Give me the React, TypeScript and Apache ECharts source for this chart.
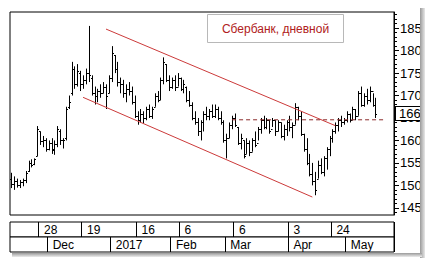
import React, { useEffect, useRef } from "react";
import * as echarts from "echarts";

// Trading days (categories), by month
const tradingDays: [string, number[]][] = [
  ["2016-11", [14, 15, 16, 17, 18, 21, 22, 23, 24, 25, 28, 29, 30]],
  ["2016-12", [1, 2, 5, 6, 7, 8, 9, 12, 13, 14, 15, 16, 19, 20, 21, 22, 23, 26, 27, 28, 29, 30]],
  ["2017-01", [3, 4, 5, 6, 9, 10, 11, 12, 13, 16, 17, 18, 19, 20, 23, 24, 25, 26, 27, 30, 31]],
  ["2017-02", [1, 2, 3, 6, 7, 8, 9, 10, 13, 14, 15, 16, 17, 20, 21, 22, 24, 27, 28]],
  ["2017-03", [1, 2, 3, 6, 7, 9, 10, 13, 14, 15, 16, 17, 20, 21, 22, 23, 24, 27, 28, 29, 30, 31]],
  ["2017-04", [3, 4, 5, 6, 7, 10, 11, 12, 13, 14, 17, 18, 19, 20, 21, 24, 25, 26, 27, 28]],
  ["2017-05", [2, 3, 4, 5, 10, 11, 12, 15, 16, 17, 18, 19, 22, 23, 24, 25, 26]],
];

// OHLC values (one per trading day from 2016-11-14)
const opens = [
  151.5, 150.2, 151.0, 150.0, 150.8, 151.2, 153.2, 155.0, 154.8, 156.5,
  162.0, 159.8, 160.0, 158.2, 159.5, 158.0, 159.2, 162.2, 160.0, 160.5,
  167.5, 170.5, 176.0, 172.5, 175.0, 172.5, 173.5, 175.0, 174.0, 170.5,
  170.0, 171.0, 170.5, 172.0, 170.5, 174.0, 179.0, 176.0, 173.0, 172.5,
  170.5, 171.5, 171.0, 168.5, 165.5, 164.5, 166.0, 165.0, 167.0, 165.5,
  167.5, 170.0, 169.0, 173.5, 177.0, 173.5, 172.0, 173.5, 172.0, 174.0,
  171.5, 172.0, 169.0, 168.0, 165.0, 164.0, 162.0, 164.0, 166.0, 165.5,
  166.5, 165.5, 167.0, 165.0, 164.0, 160.0, 160.5, 163.5, 165.0, 163.0,
  159.5, 160.0, 157.0, 159.5, 157.5, 160.0, 159.5, 162.5, 164.5, 163.0,
  164.5, 162.5, 164.5, 162.0, 164.0, 161.0, 162.5, 164.0, 163.0, 163.5,
  167.5, 165.5, 161.5, 158.0, 155.0, 152.5, 151.0, 151.5, 154.5, 153.0,
  156.0, 158.0, 160.5, 162.0, 163.5, 164.5, 164.0, 164.5, 166.0, 164.5,
  167.0, 165.5, 170.5, 168.0, 170.0, 169.0, 171.0, 168.0,
];
const highs = [
  152.8, 152.0, 151.5, 151.2, 151.5, 153.2, 155.5, 155.8, 156.0, 163.2,
  162.0, 161.0, 160.5, 160.0, 160.5, 160.0, 163.2, 162.5, 160.5, 167.5,
  170.0, 177.5, 176.5, 177.0, 175.5, 174.5, 176.0, 185.5, 174.5, 172.0,
  171.5, 172.5, 173.0, 172.5, 174.5, 181.0, 179.0, 177.5, 174.0, 173.5,
  172.5, 173.0, 172.0, 170.0, 166.5, 167.0, 166.5, 167.5, 168.0, 167.5,
  170.5, 171.0, 174.0, 178.5, 177.0, 174.5, 174.0, 174.5, 175.0, 174.0,
  173.5, 172.0, 171.0, 168.5, 166.5, 165.0, 164.5, 166.5, 167.5, 167.0,
  168.0, 168.0, 167.5, 166.5, 164.5, 161.5, 164.0, 165.5, 166.0, 163.0,
  161.5, 160.0, 160.5, 160.0, 160.5, 162.0, 163.0, 165.0, 165.5, 165.0,
  164.5, 165.0, 164.5, 164.5, 164.0, 163.5, 164.5, 165.5, 164.0, 168.3,
  167.5, 166.5, 161.5, 160.5, 157.0, 155.0, 153.0, 155.5, 156.0, 156.5,
  158.5, 161.0, 162.5, 164.0, 165.0, 165.5, 165.0, 166.5, 166.0, 167.5,
  167.0, 171.0, 172.0, 170.5, 171.5, 172.0, 170.5, 169.5,
];
const lows = [
  149.4, 149.0, 149.5, 149.4, 149.8, 150.5, 153.0, 154.0, 154.5, 156.5,
  159.0, 158.5, 157.5, 157.8, 157.0, 156.8, 158.5, 159.0, 158.2, 160.0,
  167.0, 170.0, 171.5, 172.0, 171.0, 171.5, 172.5, 173.0, 170.0, 168.0,
  168.5, 169.5, 170.5, 167.0, 170.5, 173.0, 175.0, 172.0, 170.5, 169.5,
  168.5, 170.0, 168.0, 165.0, 163.5, 164.0, 163.8, 164.5, 165.0, 164.8,
  167.5, 168.5, 169.0, 172.5, 173.0, 171.0, 171.5, 171.0, 172.0, 171.0,
  170.5, 168.5, 167.5, 164.5, 163.5, 161.0, 160.0, 162.0, 164.5, 164.5,
  165.0, 165.0, 164.5, 163.5, 159.5, 156.0, 160.5, 162.5, 163.0, 159.0,
  158.0, 156.0, 157.0, 156.5, 157.5, 158.5, 160.0, 161.5, 162.5, 162.5,
  161.5, 163.0, 161.0, 162.0, 160.5, 160.0, 161.0, 162.0, 160.5, 163.5,
  164.5, 161.0, 157.5, 154.5, 152.0, 150.0, 147.8, 151.5, 152.5, 152.0,
  153.5, 156.5, 159.5, 161.5, 162.0, 163.0, 163.5, 164.0, 164.0, 164.5,
  164.5, 165.5, 167.5, 167.5, 168.0, 168.5, 167.5, 165.0,
];
const closes = [
  150.2, 151.0, 150.0, 150.8, 151.2, 152.8, 155.0, 154.6, 155.8, 162.5,
  159.8, 160.2, 158.2, 159.5, 157.8, 159.2, 162.5, 160.0, 160.2, 167.0,
  168.5, 176.0, 172.5, 175.5, 172.5, 173.5, 175.0, 174.5, 170.5, 170.0,
  171.0, 170.5, 172.0, 170.0, 174.0, 179.5, 176.0, 173.0, 172.5, 170.5,
  171.5, 171.0, 168.5, 165.5, 164.5, 166.0, 165.0, 167.0, 165.5, 167.0,
  170.0, 169.0, 173.5, 177.5, 173.5, 172.0, 173.5, 172.0, 174.0, 171.5,
  172.5, 169.0, 168.0, 165.0, 164.0, 162.0, 164.0, 166.0, 165.5, 166.5,
  165.5, 167.0, 165.0, 164.0, 160.0, 160.5, 163.5, 165.0, 163.5, 159.5,
  160.5, 156.5, 159.5, 157.5, 160.0, 159.0, 162.5, 164.5, 163.0, 164.5,
  162.0, 164.5, 162.0, 164.0, 161.0, 162.5, 164.0, 163.0, 163.5, 167.5,
  165.5, 161.5, 158.0, 155.0, 152.5, 151.0, 149.0, 154.5, 153.0, 156.0,
  158.0, 160.5, 162.0, 163.5, 164.5, 164.0, 164.5, 166.0, 164.5, 167.0,
  165.5, 170.5, 168.0, 170.0, 169.0, 171.0, 168.0, 166.0,
];

// Channel lines and horizontal level: [category index, price]
const upperChannel: [number, number][] = [[33, 184.8], [113, 163.3]];
const lowerChannel: [number, number][] = [[25, 169.6], [105, 147.4]];
const levelLine: [number, number][] = [[77, 164.6], [130, 164.6]];

// Axis labels
const yLabelValues = [145, 150, 155, 160, 165, 170, 175, 180, 185];
const yMinorTicks = [144, 145, 146, 147, 148, 149, 150, 151, 152, 153, 154, 155, 156, 157, 158, 159, 160, 161, 162, 163, 164, 165, 166, 167, 168, 169, 170, 171, 172, 173, 174, 175, 176, 177, 178, 179, 180, 181, 182, 183, 184, 185, 186, 187, 188];
const dayTicks = ["2016-11-28", "2016-12-19", "2017-01-16", "2017-02-06", "2017-03-06", "2017-04-03", "2017-04-24"];
const monthTickDates = ["2016-12-01", "2017-01-03", "2017-02-01", "2017-03-01", "2017-04-03", "2017-05-02"];
const monthTickLabels = ["Dec", "2017", "Feb", "Mar", "Apr", "May"];

const title = "Сбербанк, дневной";

const dates: string[] = [];
tradingDays.forEach(([m, days]) => days.forEach((d) => dates.push(`${m}-${String(d).padStart(2, "0")}`)));

const FONT = "Liberation Sans";

export default function App() {
  const ref = useRef<HTMLDivElement>(null);
  useEffect(() => {
    if (!ref.current) return;
    const chart = echarts.init(ref.current, null, { renderer: "svg" });
    const ohlc = closes.map((c, i) => [i, opens[i], c, lows[i], highs[i]]);
    const lastClose = closes[closes.length - 1];

    const stripAxis = (gridIndex: number, isTick: (v: string) => boolean, fmt: (v: string) => string, margin: number) => ({
      gridIndex,
      type: "category",
      data: dates,
      boundaryGap: true,
      axisLine: { show: false },
      axisTick: { show: false },
      splitLine: {
        show: true,
        interval: (_i: number, v: string) => isTick(v),
        lineStyle: { color: "#000", width: 1 },
      },
      axisLabel: {
        show: true,
        inside: true,
        interval: (_i: number, v: string) => isTick(v),
        formatter: fmt,
        align: "left",
        verticalAlign: "middle",
        margin,
        padding: [0, 0, 0, 4],
        color: "#000",
        fontSize: 12,
        fontFamily: FONT,
      },
    });

    const option: any = {
      animation: false,
      backgroundColor: "#fff",
      textStyle: { fontFamily: FONT },
      grid: [
        { left: 10, top: 12, width: 384, height: 203, show: true, borderColor: "#000", borderWidth: 1, backgroundColor: "#fff" },
        { left: 10, top: 222, width: 384, height: 15, show: true, borderColor: "#000", borderWidth: 1, backgroundColor: "#fff" },
        { left: 10, top: 237, width: 384, height: 15, show: true, borderColor: "#000", borderWidth: 1, backgroundColor: "#fff" },
      ],
      xAxis: [
        {
          gridIndex: 0,
          type: "category",
          data: dates,
          boundaryGap: true,
          axisLine: { show: false },
          axisTick: { show: false },
          axisLabel: { show: false },
          splitLine: { show: false },
        },
        stripAxis(1, (v) => dayTicks.includes(v), (v) => String(Number(v.slice(8))), 7.5),
        stripAxis(
          2,
          (v) => monthTickDates.includes(v),
          (v) => monthTickLabels[monthTickDates.indexOf(v)] ?? "",
          7
        ),
      ],
      yAxis: [
        {
          gridIndex: 0,
          type: "value",
          position: "right",
          min: 143.4,
          max: 188.6,
          axisLine: { show: true, lineStyle: { color: "#000", width: 1 } },
          axisTick: { show: true, customValues: yMinorTicks, length: 3, lineStyle: { color: "#000" } },
          axisLabel: { show: true, customValues: yLabelValues, color: "#000", fontSize: 13, fontFamily: FONT, margin: 6 },
          splitLine: { show: false },
        },
        {
          gridIndex: 0,
          type: "value",
          position: "right",
          min: 143.4,
          max: 188.6,
          axisLine: { show: false },
          axisTick: { show: true, customValues: yLabelValues, length: 5, lineStyle: { color: "#000" } },
          axisLabel: { show: false },
          splitLine: { show: false },
        },
        {
          gridIndex: 0,
          type: "value",
          position: "right",
          min: 143.4,
          max: 188.6,
          z: 10,
          axisLine: { show: false },
          axisTick: { show: false },
          axisLabel: {
            show: true,
            customValues: [lastClose],
            formatter: (v: number) => String(Math.round(v)),
            color: "#000",
            fontSize: 13,
            fontFamily: FONT,
            margin: 2,
            backgroundColor: "#fff",
            borderColor: "#000",
            borderWidth: 1,
            padding: [0, 8, 0, 3],
          },
          splitLine: { show: false },
        },
        { gridIndex: 1, type: "value", show: false },
        { gridIndex: 2, type: "value", show: false },
      ],
      series: [
        {
          type: "custom",
          xAxisIndex: 0,
          yAxisIndex: 0,
          encode: { x: 0, y: [1, 2, 3, 4] },
          data: ohlc,
          z: 3,
          renderItem: (_params: any, api: any) => {
            const x = api.value(0);
            const o = api.coord([x, api.value(1)]);
            const c = api.coord([x, api.value(2)]);
            const l = api.coord([x, api.value(3)]);
            const h = api.coord([x, api.value(4)]);
            const px = Math.round(h[0]) + 0.5;
            const st = { stroke: "#000", lineWidth: 1 };
            const oy = Math.round(o[1]) + 0.5;
            const cy = Math.round(c[1]) + 0.5;
            return {
              type: "group",
              children: [
                { type: "line", shape: { x1: px, y1: h[1], x2: px, y2: l[1] }, style: st },
                { type: "line", shape: { x1: px - 1.5, y1: oy, x2: px, y2: oy }, style: st },
                { type: "line", shape: { x1: px, y1: cy, x2: px + 1.5, y2: cy }, style: st },
              ],
            };
          },
        },
        {
          type: "line",
          xAxisIndex: 0,
          yAxisIndex: 0,
          data: upperChannel,
          showSymbol: false,
          silent: true,
          z: 4,
          lineStyle: { color: "#cc3a3a", width: 1 },
        },
        {
          type: "line",
          xAxisIndex: 0,
          yAxisIndex: 0,
          data: lowerChannel,
          showSymbol: false,
          silent: true,
          z: 4,
          lineStyle: { color: "#cc3a3a", width: 1 },
        },
        {
          type: "line",
          xAxisIndex: 0,
          yAxisIndex: 0,
          data: levelLine,
          showSymbol: false,
          silent: true,
          z: 4,
          lineStyle: { color: "#8b2a2a", width: 1, type: [4, 3] },
        },
      ],
      graphic: [
        {
          type: "group",
          left: 207,
          top: 14,
          z: 20,
          children: [
            { type: "rect", shape: { x: 0, y: 0, width: 136, height: 28 }, style: { fill: "#fff", stroke: "#b8b8b8", lineWidth: 1 } },
            {
              type: "text",
              x: 68,
              y: 14,
              style: { text: title, fill: "#b02020", font: `12px "${FONT}"`, align: "center", verticalAlign: "middle" },
            },
          ],
        },
        {
          type: "rect",
          left: 420,
          top: 8,
          z: 30,
          shape: { width: 5, height: 250 },
          style: {
            fill: new echarts.graphic.LinearGradient(0, 0, 1, 0, [
              { offset: 0, color: "#9a9a9a" },
              { offset: 1, color: "#e8e8e8" },
            ]),
          },
        },
        {
          type: "rect",
          left: 425,
          top: 0,
          z: 30,
          shape: { width: 8, height: 265 },
          style: { fill: "#fff" },
        },
        {
          type: "rect",
          left: 12,
          top: 253,
          z: 30,
          shape: { width: 410, height: 4 },
          style: {
            fill: new echarts.graphic.LinearGradient(0, 0, 0, 1, [
              { offset: 0, color: "#9a9a9a" },
              { offset: 1, color: "#ececec" },
            ]),
          },
        },
      ],
    };
    chart.setOption(option);
    return () => chart.dispose();
  }, []);
  return <div ref={ref} style={{ position: "fixed", left: 0, top: 0, width: 433, height: 265 }} />;
}
